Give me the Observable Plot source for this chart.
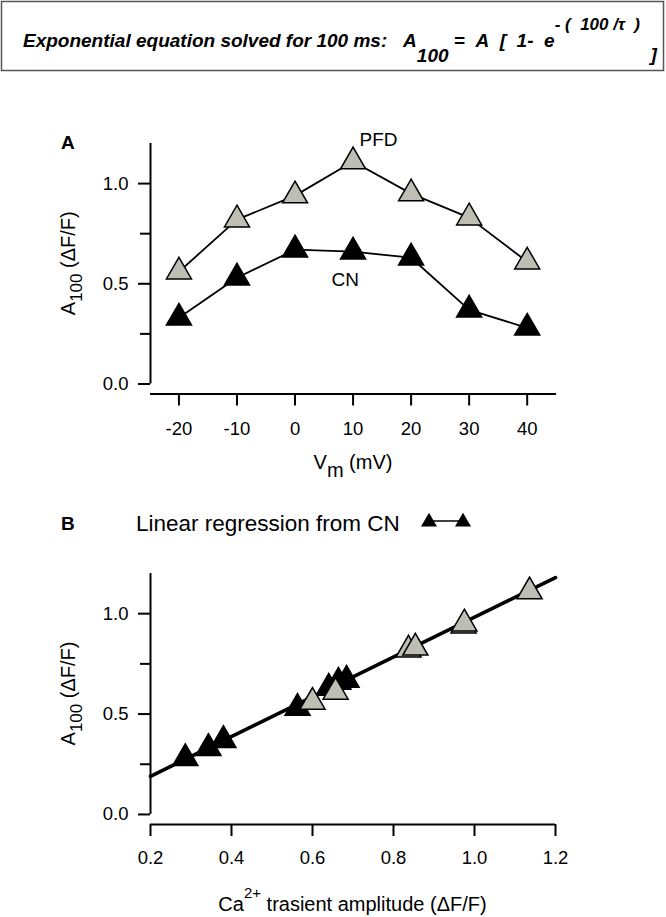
<!DOCTYPE html>
<html>
<head>
<meta charset="utf-8">
<script src="https://cdn.jsdelivr.net/npm/d3@7"></script>
<script src="https://cdn.jsdelivr.net/npm/@observablehq/plot@0.6"></script>
<style>
  body { margin: 0; background: #fff; font-family: "Liberation Sans", Arial, sans-serif; }
  #page { position: relative; width: 666px; height: 917px; overflow: hidden; background: #fff; }
  #title { position: absolute; left: 0; top: 0; }
  #panelA { position: absolute; left: 0; top: 80px; }
  #panelB { position: absolute; left: 0; top: 500px; }
</style>
</head>
<body>
<div id="page">
  <svg id="title" width="666" height="76"></svg>
  <div id="panelA"></div>
  <div id="panelB"></div>
</div>
<script>
// ---------------- data ----------------
const vm = [-20, -10, 0, 10, 20, 30, 40];                       // membrane potential (mV)
const pfdA100 = [0.56, 0.82, 0.94, 1.11, 0.95, 0.83, 0.61];     // PFD A100 (ΔF/F)
const cnA100  = [0.33, 0.53, 0.67, 0.66, 0.63, 0.37, 0.28];     // CN A100 (ΔF/F)
const pfdCa   = [0.600, 0.837, 0.973, 1.136, 0.975, 0.854, 0.657]; // PFD Ca2+ transient amplitude
const cnCa    = [0.343, 0.563, 0.684, 0.664, 0.640, 0.380, 0.286]; // CN Ca2+ transient amplitude
const regCa   = [0.2, 1.2];     // regression line ends (x)
const regA100 = [0.19, 1.18];   // regression line ends (y)
const xTicksA = [-20, -10, 0, 10, 20, 30, 40];
const xTicksB = [0.2, 0.4, 0.6, 0.8, 1.0, 1.2];
const yTicksMajor = [0, 0.5, 1.0];
const yTicksMinor = [0.25, 0.75];

const GRAY = "#bebeb4";
const FONT = '"Liberation Sans", Arial, sans-serif';

const dataA = vm.map((v, i) => ({vm: v, pfd: pfdA100[i], cn: cnA100[i]}));
const dataBcn = cnCa.map((c, i) => ({ca: c, a: cnA100[i]}));
const dataBpfd = pfdCa.map((c, i) => ({ca: c, a: pfdA100[i]}));
const dataReg = regCa.map((c, i) => ({ca: c, a: regA100[i]}));

const baseStyle = {fontFamily: FONT, fontSize: "18.5px", color: "#000", background: "transparent", overflow: "visible"};
const NB = "\u00a0";

// ---------------- title ----------------
{
  const t = d3.select("#title");
  t.append("rect").attr("x", 1.5).attr("y", 1.5).attr("width", 662).attr("height", 69)
    .attr("fill", "none").attr("stroke", "#555").attr("stroke-width", 1.5);
  const tx = t.append("text").attr("x", 23).attr("y", 47).attr("text-anchor", "start")
    .style("font-family", FONT).style("font-weight", "bold").style("font-style", "italic")
    .style("font-size", "19px").attr("fill", "#000");
  tx.append("tspan").text("Exponential equation solved for 100 ms:" + NB + NB + NB + "A");
  tx.append("tspan").attr("dy", 15).style("font-size", "19px").text("100");
  tx.append("tspan").attr("dy", -15).text(NB + "=" + NB + NB + "A" + NB + NB + "[" + NB + NB + "1-" + NB + NB + "e");
  tx.append("tspan").attr("dy", -17).style("font-size", "17px").text("-" + NB + "(" + NB + NB + "100" + NB + "/\u03c4" + NB + NB + ")");
  tx.append("tspan").attr("dy", 31).text(NB + NB + "]");
}

// ---------------- panel A ----------------
const plotA = Plot.plot({
  width: 666, height: 400,
  marginTop: 63, marginBottom: 86.5, marginLeft: 150, marginRight: 110,
  style: baseStyle,
  x: {domain: [-24.9, 45.05], axis: null},
  y: {domain: [-0.05, 1.2], axis: null},
  marks: [
    Plot.ruleY([-0.05], {stroke: "#000", strokeWidth: 2}),
    Plot.ruleX([-24.9], {y1: 0, y2: 1.2, stroke: "#000", strokeWidth: 2}),
    Plot.axisX(xTicksA, {anchor: "bottom", label: null, tickSize: 12, tickPadding: 16, strokeWidth: 2, fontSize: 18.5, tickFormat: d => String(d)}),
    Plot.axisY(yTicksMajor, {anchor: "left", label: null, tickSize: 12, tickPadding: 10, strokeWidth: 2, fontSize: 18.5, tickFormat: d => d.toFixed(1)}),
    Plot.axisY(yTicksMinor, {anchor: "left", label: null, tickSize: 10, strokeWidth: 2, tickFormat: () => ""}),
    Plot.line(dataA, {x: "vm", y: "pfd", stroke: "#000", strokeWidth: 1.8}),
    Plot.line(dataA, {x: "vm", y: "cn", stroke: "#000", strokeWidth: 1.8}),
    Plot.dot(dataA, {x: "vm", y: "pfd", symbol: "triangle", r: 9.3, fill: GRAY, stroke: "#000", strokeWidth: 1.5}),
    Plot.dot(dataA, {x: "vm", y: "cn", symbol: "triangle", r: 9.3, fill: "#000", stroke: "#000", strokeWidth: 1.5})
  ]
});
document.getElementById("panelA").appendChild(plotA);
{
  const svg = d3.select(plotA);
  const sx = plotA.scale("x"), sy = plotA.scale("y");
  const g = svg.append("g").style("font-family", FONT).attr("fill", "#000").attr("text-anchor", "start");
  g.append("text").attr("x", 61).attr("y", 69).style("font-weight", "bold").style("font-size", "19px").text("A");
  g.append("text").attr("x", sx.apply(10) + 7).attr("y", sy.apply(1.11) - 15).style("font-size", "19px").text("PFD");
  g.append("text").attr("x", sx.apply(5) + 8).attr("y", sy.apply(0.5) + 2.5).style("font-size", "19px").text("CN");
  // x label
  const xl = g.append("text").attr("x", (sx.apply(-24.9) + sx.apply(45.05)) / 2).attr("y", 389)
    .attr("text-anchor", "middle").style("font-size", "20px");
  xl.append("tspan").text("V");
  xl.append("tspan").attr("dy", 8).text("m");
  xl.append("tspan").attr("dy", -8).text(" (mV)");
  // y label
  const yl = g.append("text").attr("transform", `translate(75,${(sy.apply(0) + sy.apply(1.2)) / 2}) rotate(-90)`)
    .attr("text-anchor", "middle").style("font-size", "20px");
  yl.append("tspan").text("A");
  yl.append("tspan").attr("dy", 7).style("font-size", "17px").text("100");
  yl.append("tspan").attr("dy", -7).text(" (\u0394F/F)");
}

// ---------------- panel B ----------------
const plotB = Plot.plot({
  width: 666, height: 417,
  marginTop: 73, marginBottom: 93, marginLeft: 150, marginRight: 111,
  style: baseStyle,
  x: {domain: [0.2, 1.2], axis: null},
  y: {domain: [-0.05, 1.2], axis: null},
  marks: [
    Plot.ruleY([-0.05], {stroke: "#000", strokeWidth: 2}),
    Plot.ruleX([0.2], {y1: 0, y2: 1.2, stroke: "#000", strokeWidth: 2}),
    Plot.axisX(xTicksB, {anchor: "bottom", label: null, tickSize: 12, tickPadding: 14, strokeWidth: 2, fontSize: 18.5, tickFormat: d => d.toFixed(1)}),
    Plot.axisY(yTicksMajor, {anchor: "left", label: null, tickSize: 12, tickPadding: 10, strokeWidth: 2, fontSize: 18.5, tickFormat: d => d.toFixed(1)}),
    Plot.axisY(yTicksMinor, {anchor: "left", label: null, tickSize: 10, strokeWidth: 2, tickFormat: () => ""}),
    Plot.line(dataReg, {x: "ca", y: "a", stroke: "#000", strokeWidth: 3.6}),
    Plot.dot(dataBcn, {x: "ca", y: "a", symbol: "triangle", r: 9.3, fill: "#000", stroke: "#000", strokeWidth: 1.5}),
    Plot.dot(dataBpfd, {x: "ca", y: "a", symbol: "triangle", r: 9.3, fill: GRAY, stroke: "#000", strokeWidth: 1.5})
  ]
});
document.getElementById("panelB").appendChild(plotB);
{
  const svg = d3.select(plotB);
  const sx = plotB.scale("x"), sy = plotB.scale("y");
  const g = svg.append("g").style("font-family", FONT).attr("fill", "#000").attr("text-anchor", "start");
  g.append("text").attr("x", 61).attr("y", 30).style("font-weight", "bold").style("font-size", "19px").text("B");
  g.append("text").attr("x", 136).attr("y", 30.5).style("font-size", "22.5px").text("Linear regression from CN");
  g.append("line").attr("x1", 429).attr("x2", 463).attr("y1", 21).attr("y2", 21)
    .attr("stroke", "#000").attr("stroke-width", 1.5);
  const tri = d3.symbol().type(d3.symbolTriangle).size(111)();
  [429, 463].forEach(x => g.append("path").attr("d", tri).attr("transform", `translate(${x},22)`).attr("fill", "#000"));
  // x label
  const xl = g.append("text").attr("x", (sx.apply(0.2) + sx.apply(1.2)) / 2).attr("y", 411)
    .attr("text-anchor", "middle").style("font-size", "20px");
  xl.append("tspan").text("Ca");
  xl.append("tspan").attr("dy", -13).style("font-size", "15px").text("2+");
  xl.append("tspan").attr("dy", 13).text(" trasient amplitude (\u0394F/F)");
  // y label
  const yl = g.append("text").attr("transform", `translate(75,${(sy.apply(0) + sy.apply(1.2)) / 2}) rotate(-90)`)
    .attr("text-anchor", "middle").style("font-size", "20px");
  yl.append("tspan").text("A");
  yl.append("tspan").attr("dy", 7).style("font-size", "17px").text("100");
  yl.append("tspan").attr("dy", -7).text(" (\u0394F/F)");
}
</script>
</body>
</html>
